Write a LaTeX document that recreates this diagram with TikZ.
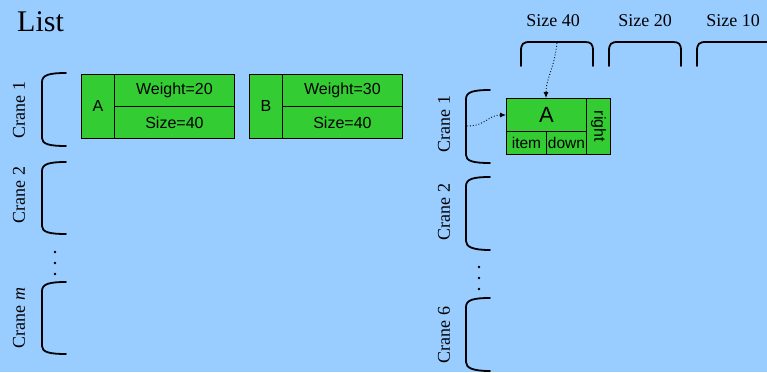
\documentclass[tikz,border=0pt]{standalone}
\usepackage{fontspec}
\setmainfont{Liberation Serif}
\newfontfamily\arialf{Liberation Sans}
\usetikzlibrary{arrows.meta}
\definecolor{bgblue}{HTML}{99CCFF}
\definecolor{boxgreen}{HTML}{33CC33}
\begin{document}
\begin{tikzpicture}[x=1pt,y=-1pt,
  cell/.style={draw=black, line width=0.9pt, fill=boxgreen, inner sep=0pt, anchor=north west, font=\arialf\fontsize{16}{18}\selectfont},
  brk/.style={line width=1.8pt, line cap=round},
  lab/.style={font=\fontsize{18}{20}\selectfont, inner sep=0pt},
  crane/.style={lab, rotate=90},
  ptr/.style={dotted, line width=0.9pt, -{Latex[length=6pt,width=5pt]}},
  dotmark/.style={circle, fill=black, inner sep=0pt, minimum size=2.8pt}
]
\useasboundingbox (0,0) rectangle (767,372);
\fill[bgblue] (0,0) rectangle (767,372);

% title
\node[font=\fontsize{30}{32}\selectfont, inner sep=0pt, anchor=base west] (title) at (17,31) {List};

% ---------- left part ----------
\node[crane] (lc1) at (19,110) {Crane 1};
\node[crane] (lc2) at (19,195) {Crane 2};
\node[crane] (lcm) at (19,318) {Crane \textit{m}};

\draw[brk] (66,73) .. controls (49,73) and (42,75) .. (42,82) -- (42,138) .. controls (42,144) and (49,146) .. (66,146);
\draw[brk] (66,162) .. controls (49,162) and (42,164) .. (42,171) -- (42,226) .. controls (42,232) and (49,234) .. (66,234);
\draw[brk] (66,282) .. controls (49,282) and (42,284) .. (42,291) -- (42,346) .. controls (42,352) and (49,354) .. (66,354);

\node[dotmark] (ld1) at (55,252) {};
\node[dotmark] (ld2) at (55,263) {};
\node[dotmark] (ld3) at (55,274) {};

% item A
\node[cell, minimum width=33pt, minimum height=64pt] (aName) at (81,74) {A};
\node[cell, minimum width=120pt, minimum height=32pt] (aW) at (114,74) {Weight=20};
\node[cell, minimum width=120pt, minimum height=32pt] (aS) at (114,106) {Size=40};
% item B
\node[cell, minimum width=33pt, minimum height=64pt] (bName) at (249,74) {B};
\node[cell, minimum width=120pt, minimum height=32pt] (bW) at (282,74) {Weight=30};
\node[cell, minimum width=120pt, minimum height=32pt] (bS) at (282,106) {Size=40};

% ---------- right part ----------
\node[lab, anchor=base] (s40) at (553,26) {Size 40};
\node[lab, anchor=base] (s20) at (645,26) {Size 20};
\node[lab, anchor=base] (s10) at (733,26) {Size 10};

\draw[brk] (521,66) -- (521,51) .. controls (521,44) and (523,42) .. (530,42) -- (585,42) .. controls (591,42) and (593,44) .. (593,51) -- (593,66);
\draw[brk] (609,66) -- (609,51) .. controls (609,44) and (611,42) .. (618,42) -- (673,42) .. controls (679,42) and (681,44) .. (681,51) -- (681,66);
\draw[brk] (697,66) -- (697,51) .. controls (697,44) and (699,42) .. (706,42) -- (770,42);
\coordinate (s40top) at (557,43);

\node[crane] (rc1) at (444,124) {Crane 1};
\node[crane] (rc2) at (444,212) {Crane 2};
\node[crane] (rc6) at (444,335) {Crane 6};

\draw[brk] (490,90) .. controls (473,90) and (466,92) .. (466,99) -- (466,155) .. controls (466,161) and (473,163) .. (490,163);
\draw[brk] (490,177) .. controls (473,177) and (466,179) .. (466,186) -- (466,241) .. controls (466,247) and (473,250) .. (490,250);
\draw[brk] (490,298) .. controls (473,298) and (466,300) .. (466,307) -- (466,362) .. controls (466,368) and (473,371) .. (490,371);
\coordinate (c1mid) at (467,126);

\node[dotmark] (rd1) at (479,267) {};
\node[dotmark] (rd2) at (479,278) {};
\node[dotmark] (rd3) at (479,289) {};

% list node
\node[cell, minimum width=80pt, minimum height=33pt, font=\arialf\fontsize{22}{24}\selectfont] (nA) at (506,98) {A};
\node[cell, minimum width=40pt, minimum height=23pt, font=\arialf\fontsize{15.5}{17}\selectfont] (nItem) at (506,131) {item};
\node[cell, minimum width=40pt, minimum height=23pt, font=\arialf\fontsize{15.5}{17}\selectfont] (nDown) at (546,131) {down};
\node[cell, minimum width=24pt, minimum height=56pt] (nRight) at (586,98) {};
\node[font=\arialf\fontsize{16}{18}\selectfont, rotate=-90, inner sep=0pt] (nRightT) at (nRight.center) {right};

% pointers
\draw[ptr] (s40top) .. controls (554,70) and (546,78) .. (nA.north -| 546,0);
\draw[ptr] (c1mid) .. controls (486,126) and (488,115) .. (nA.west |- 0,115);
\end{tikzpicture}
\end{document}
